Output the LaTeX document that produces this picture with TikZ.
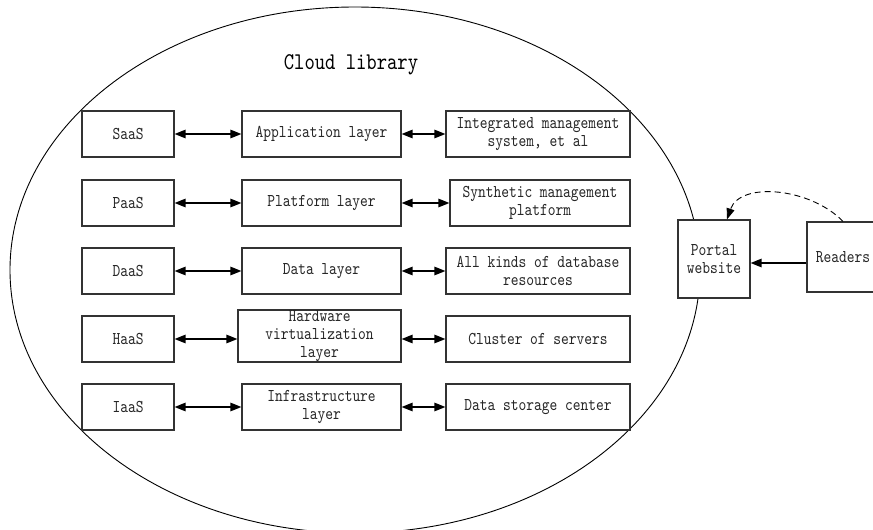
\documentclass[tikz,border=0pt]{standalone}
\usepackage{fontspec}
\usetikzlibrary{arrows.meta}
\newfontfamily\simlike[FakeStretch=0.82]{lmmono10-regular.otf}
\newcommand\bxfont{\simlike\fontsize{18}{18.3}\selectfont}
\newcommand\ttlfont{\simlike\fontsize{24}{26}\selectfont}
\begin{document}
\begin{tikzpicture}[x=1pt,y=-1pt,
  box/.style={draw=black!80, line width=1.2pt, fill=white, inner sep=0pt, align=center, font=\bxfont, text=black!85},
  c1/.style={box, minimum width=92pt, minimum height=46pt},
  c2/.style={box, minimum width=159pt, minimum height=46pt},
  c3/.style={box, minimum width=184pt, minimum height=46pt},
  dbl/.style={{Triangle[length=11pt,width=8.5pt]}-{Triangle[length=11pt,width=8.5pt]}, line width=1.3pt},
  arr/.style={-{Triangle[length=11pt,width=8.5pt]}, line width=1.3pt},
  dsh/.style={-{Triangle[length=11pt,width=8pt]}, line width=0.9pt, dash pattern=on 6pt off 4pt}]
\useasboundingbox (0,0) rectangle (873,530);
\begin{scope}
\clip (0,0) rectangle (873,530);
\draw[line width=0.9pt] (355,270) ellipse [x radius=345, y radius=263];
\end{scope}
\node[font=\ttlfont] (title) at (351,65) {Cloud library};
% column 1
\node[c1] (saas) at (128,134) {SaaS};
\node[c1] (paas) at (128,203) {PaaS};
\node[c1] (daas) at (128,271) {DaaS};
\node[c1] (haas) at (128,339) {HaaS};
\node[c1] (iaas) at (128,407) {IaaS};
% column 2
\node[c2] (app) at (321.5,134) {Application layer};
\node[c2] (plat) at (321.5,203) {Platform layer};
\node[c2] (data) at (321.5,271) {Data layer};
\node[c2, minimum width=163pt, minimum height=52pt] (hw) at (319.5,336) {Hardware\\virtualization\\layer};
\node[c2] (infra) at (321.5,407) {Infrastructure\\layer};
% column 3
\node[c3] (ims) at (538,134) {Integrated management\\system, et al};
\node[c3, minimum width=180pt] (smp) at (540,203) {Synthetic management\\platform};
\node[c3] (db) at (538,271) {All kinds of database\\resources};
\node[c3] (cs) at (538,339) {Cluster of servers};
\node[c3] (dsc) at (538,407) {Data storage center};
% portal and readers
\node[box, minimum width=72pt, minimum height=78pt] (portal) at (714,259) {Portal\\website};
\node[box, minimum width=72pt, minimum height=70pt] (readers) at (843,257) {Readers};
% arrows
\draw[dbl] (saas) -- (app);
\draw[dbl] (paas) -- (plat);
\draw[dbl] (daas) -- (data);
\draw[dbl] (haas.east) -- (haas.east -| hw.west);
\draw[dbl] (iaas) -- (infra);
\draw[dbl] (app) -- (ims);
\draw[dbl] (plat) -- (smp);
\draw[dbl] (data) -- (db);
\draw[dbl] (hw.east |- cs.west) -- (cs.west);
\draw[dbl] (infra) -- (dsc);
\draw[arr] ([yshift=-6pt]readers.west) -- ([yshift=-4pt]portal.east);
\draw[dsh] (readers.north) .. controls +(-33,-34) and +(13,-38) .. ([xshift=13pt]portal.north);
\end{tikzpicture}
\end{document}
